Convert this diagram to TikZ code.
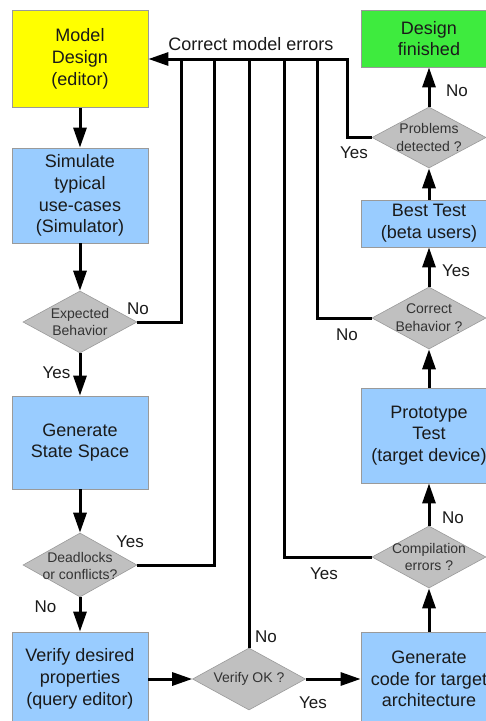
\documentclass[tikz,border=0pt]{standalone}
\usepackage{fontspec}
\setmainfont{Liberation Sans}
\usetikzlibrary{shapes.geometric,arrows.meta}
\definecolor{boxblue}{HTML}{99CCFF}
\definecolor{boxyellow}{HTML}{FFFF00}
\definecolor{boxgreen}{HTML}{3EEB3E}
\definecolor{diafill}{HTML}{C0C0C0}
\definecolor{bordergray}{HTML}{9A9A9A}
\definecolor{txt}{HTML}{1A1A1A}
\definecolor{dtxt}{HTML}{333333}
\tikzset{
  box/.style={draw=bordergray, line width=0.8pt, fill=boxblue, minimum width=136pt,
    inner sep=0pt, align=center, font=\fontsize{18}{21.7}\selectfont, text=txt},
  dia/.style={diamond, draw=bordergray, line width=0.6pt, fill=diafill,
    minimum width=114pt, minimum height=62pt, inner sep=0pt},
  dtext/.style={align=center, font=\fontsize{14}{17.8}\selectfont, text=dtxt, inner sep=0pt},
  arr/.style={line width=3pt, -{Triangle[length=20pt,width=13pt]}},
  ln/.style={line width=3pt},
  lab/.style={font=\fontsize{17}{20}\selectfont, anchor=base, inner sep=0pt, text=txt}
}
\begin{document}
\begin{tikzpicture}[x=1pt,y=-1pt]
\useasboundingbox (0,0) rectangle (486,721);
\clip (0,0) rectangle (486,721);
\fill[white] (0,0) rectangle (486,721);

% left column
\node[box, fill=boxyellow, minimum height=97pt] (md) at (80,59) {Model\\Design\\(editor)};
\node[box, minimum height=95pt] (sim) at (80,195.5) {Simulate\\typical\\use-cases\\(Simulator)};
\node[dia] (d1) at (80,322) {};
\node[dtext] (d1t) at (80,322) {Expected\\Behavior};
\node[box, minimum height=93pt] (gss) at (80,442.5) {Generate\\State Space};
\node[dia, minimum height=64pt] (d2) at (80,565) {};
\node[dtext] (d2t) at (80,566) {Deadlocks\\or conflicts?};
\node[box, minimum height=94pt] (vdp) at (80,679) {Verify desired\\properties\\(query editor)};

% middle
\node[dia, minimum width=113pt] (vok) at (249,679) {};
\node[dtext] (vokt) at (249,679) {Verify OK ?};

% right column
\node[box, minimum height=94pt] (gc) at (429,679) {Generate\\code for target\\architecture};
\node[dia] (d3) at (429,557) {};
\node[dtext] (d3t) at (429,557) {Compilation\\errors ?};
\node[box, minimum height=95pt] (pt) at (429,435.5) {Prototype\\Test\\(target device)};
\node[dia] (d4) at (429,318) {};
\node[dtext] (d4t) at (429,318) {Correct\\Behavior ?};
\node[box, minimum height=47pt] (bt) at (429,223.5) {Best Test\\(beta users)};
\node[dia, minimum height=61pt] (d5) at (429,137.5) {};
\node[dtext] (d5t) at (429,137.5) {Problems\\detected ?};
\node[box, fill=boxgreen, minimum height=57pt] (df) at (429,38.5) {Design\\finished};

% junctions on the top feedback line
\coordinate (j1) at (181,59);
\coordinate (j2) at (214,59);
\coordinate (j3) at (249,59);
\coordinate (j4) at (284,59);
\coordinate (j5) at (317,59);
\coordinate (j6) at (347,59);

% main flow
\draw[arr] (md) -- (sim);
\draw[arr] (sim) -- (d1);
\draw[arr] (d1) -- (gss);
\draw[arr] (gss) -- (d2);
\draw[arr] (d2) -- (vdp);
\draw[arr] (vdp) -- (vok);
\draw[arr] (vok) -- (gc);
\draw[arr] (gc) -- (d3);
\draw[arr] (d3) -- (pt);
\draw[arr] (pt) -- (d4);
\draw[arr] (d4) -- (bt);
\draw[arr] (bt) -- (d5);
\draw[arr] (d5) -- (df);

% feedback lines
\draw[ln] (d1.east) -| (j1);
\draw[ln] (d2.east) -| (j2);
\draw[ln] (vok.north) -- (j3);
\draw[ln] (d3.west) -| (j4);
\draw[ln] (d4.west) -| (j5);
\draw[arr] (d5.west) -| (j6) -- (md.east);

\node[lab, font=\fontsize{18}{20}\selectfont] (cme) at (251,50) {Correct model errors};

% labels
\node[lab] (l1) at (138,314) {No};
\node[lab] (l2) at (56.5,378) {Yes};
\node[lab] (l3) at (130,547) {Yes};
\node[lab] (l4) at (45.5,612) {No};
\node[lab] (l5) at (266,642) {No};
\node[lab] (l6) at (313,708) {Yes};
\node[lab] (l7) at (324,579) {Yes};
\node[lab] (l8) at (453,523) {No};
\node[lab] (l9) at (347,340) {No};
\node[lab] (l10) at (456,276) {Yes};
\node[lab] (l11) at (354,158) {Yes};
\node[lab] (l12) at (457,96) {No};
\end{tikzpicture}
\end{document}
